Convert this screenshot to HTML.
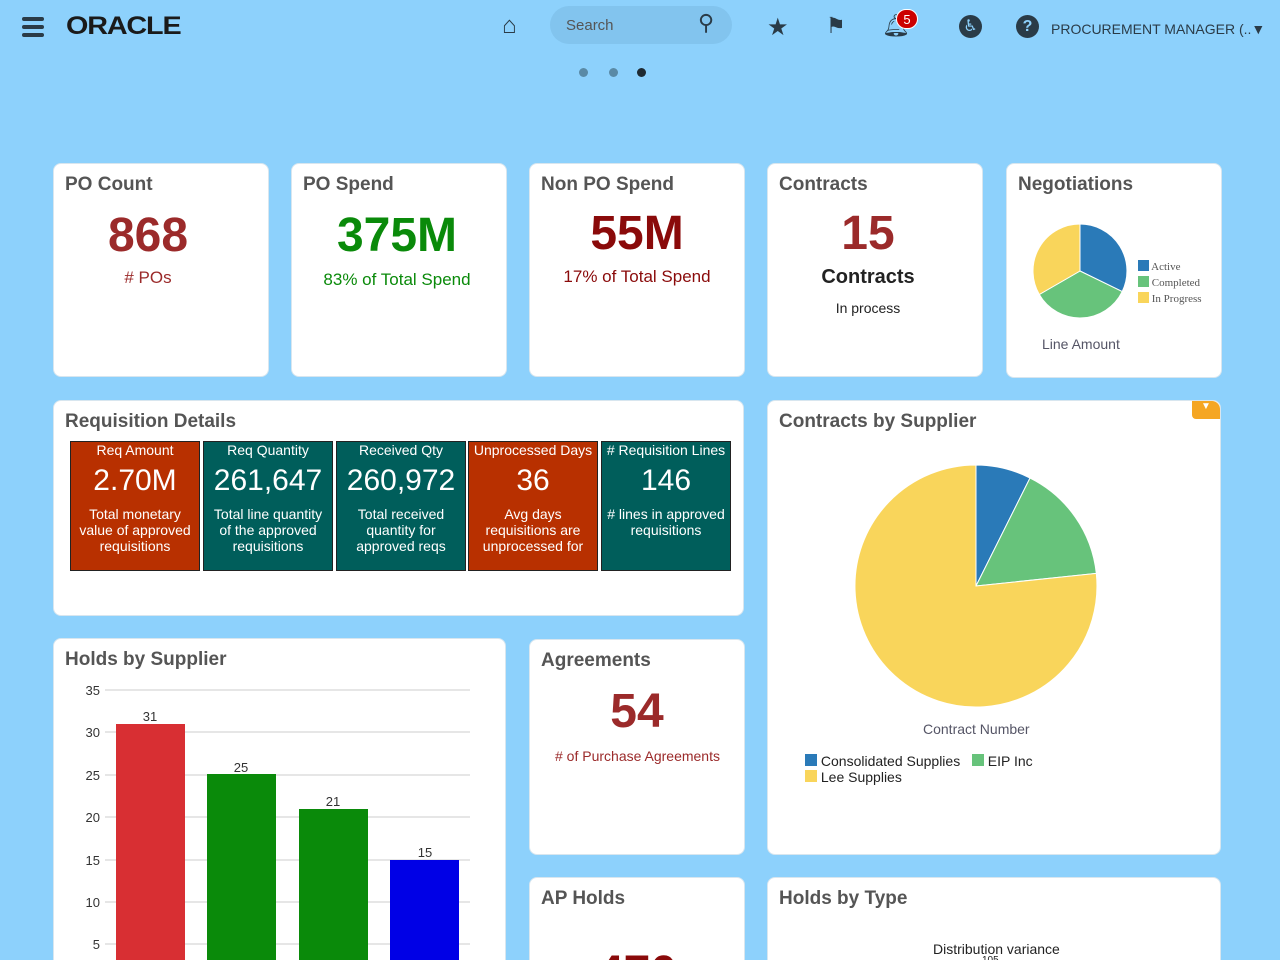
<!DOCTYPE html>
<html><head><meta charset="utf-8"><style>
*{margin:0;padding:0;box-sizing:border-box}
html,body{width:1280px;height:960px;overflow:hidden}
body{background:#8dd1fc;font-family:"Liberation Sans",Arial,sans-serif;position:relative}
.card{position:absolute;background:#fff;border-radius:8px;border:1px solid #d8e6ef;overflow:hidden}
.t{position:absolute;left:11px;top:10px;font-size:19px;font-weight:bold;color:#555}
.big{position:absolute;left:0;right:0;text-align:center;font-weight:bold}
.sub{position:absolute;left:0;right:0;text-align:center}
.tile{position:absolute;top:441px;width:130px;height:130px;border:1px solid #222;color:#fff;text-align:center}
.tile .h{font-size:14px;margin-top:0px}
.tile .v{font-size:30px;margin-top:6px}
.tile .d{font-size:14px;margin-top:8px;line-height:16px;padding:0 4px}
.o{background:#b83000}.g{background:#005e5b}
.ic{position:absolute;color:#2a3b47}
</style></head><body>
<div class="ic" style="left:22px;top:17px;width:22px">
<div style="height:4px;background:#2a3b47;border-radius:2px;margin-bottom:4px"></div><div style="height:4px;background:#2a3b47;border-radius:2px;margin-bottom:4px"></div><div style="height:4px;background:#2a3b47;border-radius:2px"></div></div>
<div class="ic" style="left:66px;top:12px;font-size:25px;font-weight:bold;letter-spacing:-1px;color:#1a1a1a;transform:scaleX(1.15);transform-origin:left">ORACLE</div>
<div class="ic" style="left:502px;top:12px;font-size:24px">⌂</div>
<div style="position:absolute;left:550px;top:6px;width:182px;height:38px;border-radius:19px;background:#82c4ee"></div>
<div class="ic" style="left:566px;top:17px;font-size:15px;color:#555">Search</div>
<div class="ic" style="left:698px;top:10px;font-size:22px">⚲</div>
<div class="ic" style="left:767px;top:13px;font-size:24px">★</div>
<div class="ic" style="left:826px;top:13px;font-size:22px">⚑</div>
<div class="ic" style="left:882px;top:13px;font-size:22px">🔔︎</div>
<div style="position:absolute;left:896px;top:9px;width:22px;height:20px;border-radius:10px;background:#c00;color:#fff;font-size:13px;text-align:center;line-height:20px;border:1px solid #fff">5</div>
<div class="ic" style="left:959px;top:15px;width:23px;height:23px;border-radius:50%;background:#2a3b47;color:#8dd1fc;font-size:16px;text-align:center;line-height:23px">♿︎</div>
<div class="ic" style="left:1016px;top:15px;width:23px;height:23px;border-radius:50%;background:#2a3b47;color:#8dd1fc;font-size:16px;font-weight:bold;text-align:center;line-height:23px">?</div>
<div class="ic" style="left:1051px;top:21px;font-size:14px">PROCUREMENT MANAGER (..▼</div>
<div style="position:absolute;left:579px;top:68px;width:9px;height:9px;border-radius:50%;background:#5a8aa6"></div>
<div style="position:absolute;left:609px;top:68px;width:9px;height:9px;border-radius:50%;background:#5a8aa6"></div>
<div style="position:absolute;left:637px;top:68px;width:9px;height:9px;border-radius:50%;background:#1e2a32"></div>

<div class="card" style="left:53px;top:163px;width:216px;height:214px"><div class="t">PO Count</div>
<div class="big" style="top:44px;font-size:48px;color:#9b2a2a;right:26px">868</div><div class="sub" style="top:104px;font-size:17px;color:#9b2a2a;right:26px"># POs</div></div>
<div class="card" style="left:291px;top:163px;width:216px;height:214px"><div class="t">PO Spend</div>
<div class="big" style="top:44px;font-size:48px;color:#0a8a0a;right:4px">375M</div><div class="sub" style="top:106px;font-size:17px;color:#0a8a0a;right:4px">83% of Total Spend</div></div>
<div class="card" style="left:529px;top:163px;width:216px;height:214px"><div class="t">Non PO Spend</div>
<div class="big" style="top:42px;font-size:48px;color:#8a0a0a">55M</div><div class="sub" style="top:103px;font-size:17px;color:#8a0a0a">17% of Total Spend</div></div>
<div class="card" style="left:767px;top:163px;width:216px;height:214px"><div class="t">Contracts</div>
<div class="big" style="top:42px;font-size:48px;color:#9b2a2a;right:14px">15</div><div class="sub" style="top:102px;font-size:20px;font-weight:bold;color:#222;right:14px">Contracts</div><div class="sub" style="top:136px;font-size:14px;color:#222;right:14px">In process</div></div>
<div class="card" style="left:1006px;top:163px;width:216px;height:215px"><div class="t">Negotiations</div>
<div style="position:absolute;left:35px;top:172px;font-size:14px;color:#556">Line Amount</div>
<div style="position:absolute;left:131px;top:95px;font-family:'Liberation Serif',serif;font-size:11px;color:#555;line-height:16px">
<div><span style="display:inline-block;width:11px;height:11px;background:#2a7ab8;vertical-align:-1px"></span> Active</div>
<div><span style="display:inline-block;width:11px;height:11px;background:#67c37b;vertical-align:-1px"></span> Completed</div>
<div><span style="display:inline-block;width:11px;height:11px;background:#f9d55b;vertical-align:-1px"></span> In Progress</div></div></div>

<div class="card" style="left:53px;top:400px;width:691px;height:216px"><div class="t">Requisition Details</div></div>
<div class="tile o" style="left:70px"><div class="h">Req Amount</div><div class="v">2.70M</div><div class="d">Total monetary value of approved requisitions</div></div>
<div class="tile g" style="left:203px"><div class="h">Req Quantity</div><div class="v">261,647</div><div class="d">Total line quantity of the approved requisitions</div></div>
<div class="tile g" style="left:336px"><div class="h">Received Qty</div><div class="v">260,972</div><div class="d">Total received quantity for approved reqs</div></div>
<div class="tile o" style="left:468px"><div class="h">Unprocessed Days</div><div class="v">36</div><div class="d">Avg days requisitions are unprocessed for</div></div>
<div class="tile g" style="left:601px"><div class="h"># Requisition Lines</div><div class="v">146</div><div class="d"># lines in approved requisitions</div></div>

<div class="card" style="left:767px;top:400px;width:454px;height:455px"><div class="t">Contracts by Supplier</div>
<div style="position:absolute;right:0;top:0;width:28px;height:18px;background:#f5a623;border-radius:0 8px 0 4px;color:#fff;font-size:10px;text-align:center">▼</div>
<div style="position:absolute;left:155px;top:320px;font-size:14px;color:#556">Contract Number</div>
<div style="position:absolute;left:37px;top:352px;font-size:14px;color:#222;line-height:16px">
<span style="display:inline-block;width:12px;height:12px;background:#2a7ab8"></span> Consolidated Supplies &nbsp; <span style="display:inline-block;width:12px;height:12px;background:#67c37b"></span> EIP Inc<br><span style="display:inline-block;width:12px;height:12px;background:#f9d55b"></span> Lee Supplies</div></div>

<div class="card" style="left:53px;top:638px;width:453px;height:340px"><div class="t">Holds by Supplier</div></div>
<div class="card" style="left:529px;top:639px;width:216px;height:216px"><div class="t">Agreements</div>
<div class="big" style="top:44px;font-size:48px;color:#9b2a2a">54</div><div style="position:absolute;left:25px;top:108px;font-size:14px;color:#9b2a2a"># of Purchase Agreements</div></div>
<div class="card" style="left:529px;top:877px;width:216px;height:120px"><div class="t">AP Holds</div>
<div class="big" style="top:68px;font-size:48px;color:#8a0a0a">470</div></div>
<div class="card" style="left:767px;top:877px;width:454px;height:120px"><div class="t">Holds by Type</div>
<div style="position:absolute;left:165px;top:63px;font-size:14px;color:#222">Distribution variance</div>
<div style="position:absolute;left:214px;top:77px;font-size:10px;color:#222">105</div></div>

<svg style="position:absolute;left:0;top:0" width="1280" height="960">
<path d="M1080,271 L1080,224 A47,47 0 0 1 1122.2,291.6Z" fill="#2a7ab8" stroke="#fff"/>
<path d="M1080,271 L1122.2,291.6 A47,47 0 0 1 1039.3,294.5Z" fill="#67c37b" stroke="#fff"/>
<path d="M1080,271 L1039.3,294.5 A47,47 0 0 1 1080,224Z" fill="#f9d55b" stroke="#fff"/>
<path d="M976,586 L976,465 A121,121 0 0 1 1030,478Z" fill="#2a7ab8" stroke="#fff"/>
<path d="M976,586 L1030,478 A121,121 0 0 1 1096.3,573.4Z" fill="#67c37b" stroke="#fff"/>
<path d="M976,586 L1096.3,573.4 A121,121 0 1 1 976,465Z" fill="#f9d55b" stroke="#fff"/>
<g stroke="#ccc" stroke-width="1">
<line x1="105" y1="690" x2="470" y2="690"/><line x1="105" y1="732" x2="470" y2="732"/><line x1="105" y1="775" x2="470" y2="775"/><line x1="105" y1="817" x2="470" y2="817"/><line x1="105" y1="860" x2="470" y2="860"/><line x1="105" y1="902" x2="470" y2="902"/><line x1="105" y1="944" x2="470" y2="944"/></g>
<g font-size="13" fill="#333" text-anchor="end" font-family="Liberation Sans">
<text x="100" y="695">35</text><text x="100" y="737">30</text><text x="100" y="780">25</text><text x="100" y="822">20</text><text x="100" y="865">15</text><text x="100" y="907">10</text><text x="100" y="949">5</text></g>
<rect x="116" y="724" width="69" height="240" fill="#d82f33"/>
<rect x="207" y="774" width="69" height="190" fill="#0a8a0a"/>
<rect x="299" y="809" width="69" height="160" fill="#0a8a0a"/>
<rect x="390" y="860" width="69" height="110" fill="#0000e6"/>
<g font-size="13" fill="#333" text-anchor="middle" font-family="Liberation Sans">
<text x="150" y="721">31</text><text x="241" y="772">25</text><text x="333" y="806">21</text><text x="425" y="857">15</text></g>
</svg>
</body></html>
